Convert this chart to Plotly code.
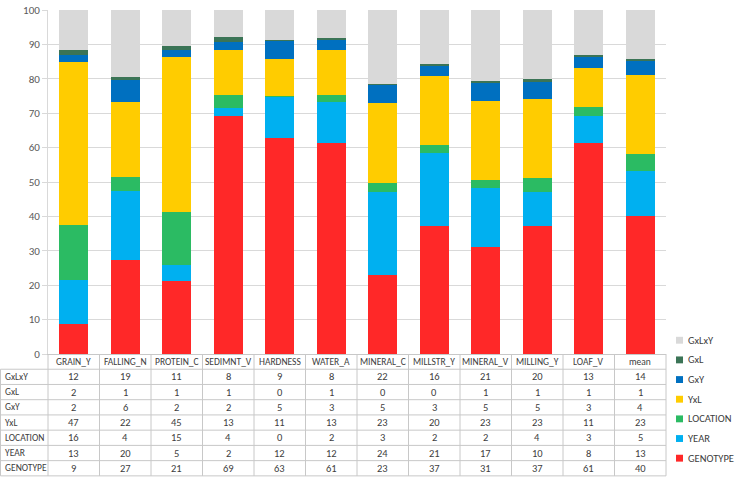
import plotly.graph_objects as go

categories = ['GRAIN_Y', 'FALLING_N', 'PROTEIN_C', 'SEDIMNT_V', 'HARDNESS', 'WATER_A',
              'MINERAL_C', 'MILLSTR_Y', 'MINERAL_V', 'MILLING_Y', 'LOAF_V', 'mean']

# variance components (%), stacked bottom -> top
genotype = [8.7, 27.2, 21.1, 69.3, 62.8, 61.2, 22.9, 37.1, 31.1, 37.2, 61.2, 40.0]
year = [12.8, 20.2, 4.8, 2.1, 12.1, 12.1, 24.2, 21.3, 17.2, 10.0, 7.9, 13.1]
location = [15.9, 4.0, 15.4, 3.9, 0.2, 1.9, 2.7, 2.4, 2.4, 4.1, 2.6, 5.0]
yxl = [47.4, 21.9, 45.0, 13.1, 10.6, 13.1, 23.1, 19.9, 22.8, 22.8, 11.4, 22.9]
gxy = [2.0, 6.4, 2.0, 2.4, 5.4, 2.9, 5.3, 3.3, 5.3, 4.9, 3.3, 4.3]
gxl = [1.6, 0.9, 1.1, 1.3, 0.2, 0.6, 0.2, 0.2, 0.6, 1.0, 0.6, 0.6]
gxlxy = [11.6, 19.4, 10.6, 7.9, 8.7, 8.2, 21.6, 15.8, 20.6, 20.0, 13.0, 14.1]

series = [
    ('GENOTYPE', genotype, '#FF2828'),
    ('YEAR', year, '#00B0F0'),
    ('LOCATION', location, '#2BBB63'),
    ('YxL', yxl, '#FFCC00'),
    ('GxY', gxy, '#0070C0'),
    ('GxL', gxl, '#3B7456'),
    ('GxLxY', gxlxy, '#D9D9D9'),
]

W, H = 738, 480
ML, MR, MT, MB = 48, 72, 4, 126
PW, PH = W - ML - MR, H - MT - MB
FONT = 'Carlito, Roboto, Liberation Sans, sans-serif'
LINE = '#C8C8C8'
TXT = '#404040'


def px(x):
    return (x - ML) / PW


def py(y):
    return (H - MB - y) / PH


fig = go.Figure()
for name, vals, color in series:
    fig.add_trace(go.Bar(x=categories, y=vals, name=name, marker_color=color,
                         marker_line_width=0, showlegend=False))

shapes = []
annotations = []

# data table under the plot
row_h = 15.5
top = H - MB
table_rows = list(reversed(series))
n = len(categories)
for k in range(1, len(table_rows) + 2):
    y = top + k * row_h
    shapes.append(dict(type='line', xref='paper', yref='paper', x0=px(0.5), x1=1,
                       y0=py(y), y1=py(y), line=dict(color=LINE, width=1)))
shapes.append(dict(type='line', xref='paper', yref='paper', x0=px(0.5), x1=px(0.5),
                   y0=py(top + row_h), y1=py(top + row_h * 8), line=dict(color=LINE, width=1)))
for i in range(n + 1):
    shapes.append(dict(type='line', xref='paper', yref='paper', x0=i / n, x1=i / n,
                       y0=py(top), y1=py(top + row_h * 8), line=dict(color=LINE, width=1)))

for c in categories:
    annotations.append(dict(x=c, xref='x', y=py(top + row_h / 2), yref='paper',
                            yanchor='middle', text=c, showarrow=False,
                            font=dict(size=9.5, color=TXT)))
for k, (name, vals, color) in enumerate(table_rows):
    yc = py(top + row_h * (k + 1.5))
    annotations.append(dict(x=px(3), xref='paper', xanchor='left', y=yc, yref='paper',
                            yanchor='middle', text=name, showarrow=False,
                            font=dict(size=9.5, color=TXT)))
    for c, v in zip(categories, vals):
        annotations.append(dict(x=c, xref='x', y=yc, yref='paper', yanchor='middle',
                                text=f'{v:.0f}', showarrow=False,
                                font=dict(size=10.5, color=TXT)))

# legend on the right
for k, (name, vals, color) in enumerate(table_rows):
    yc = 340 + 20 * k
    shapes.append(dict(type='rect', xref='paper', yref='paper', x0=px(676), x1=px(683),
                       y0=py(yc - 3.5), y1=py(yc + 3.5), fillcolor=color, line_width=0))
    annotations.append(dict(x=px(686), xref='paper', xanchor='left', y=py(yc), yref='paper',
                            yanchor='middle', text=name, showarrow=False,
                            font=dict(size=10.5, color=TXT)))

fig.update_layout(
    barmode='stack',
    bargap=0.44,
    width=W, height=H,
    margin=dict(l=ML, r=MR, t=MT, b=MB),
    plot_bgcolor='white',
    paper_bgcolor='white',
    font=dict(family=FONT, color=TXT),
    shapes=shapes,
    annotations=annotations,
    hovermode='x',
)
fig.update_xaxes(range=[-0.5, n - 0.5], showticklabels=False, showgrid=False,
                 showline=True, linecolor=LINE, linewidth=1, ticks='')
fig.update_yaxes(range=[0, 100], dtick=10, showgrid=True, gridcolor='#D9D9D9',
                 showline=True, linecolor='#D9D9D9', ticks='outside', ticklen=5,
                 tickcolor='#D9D9D9', tickfont=dict(size=11, color='#595959'),
                 ticklabeloverflow='allow', zeroline=False)

# the page's default body margin would shift the 738x480 figure
fig.write_html('out.html', config={'displayModeBar': False},
               post_script="document.body.style.margin='0';")
